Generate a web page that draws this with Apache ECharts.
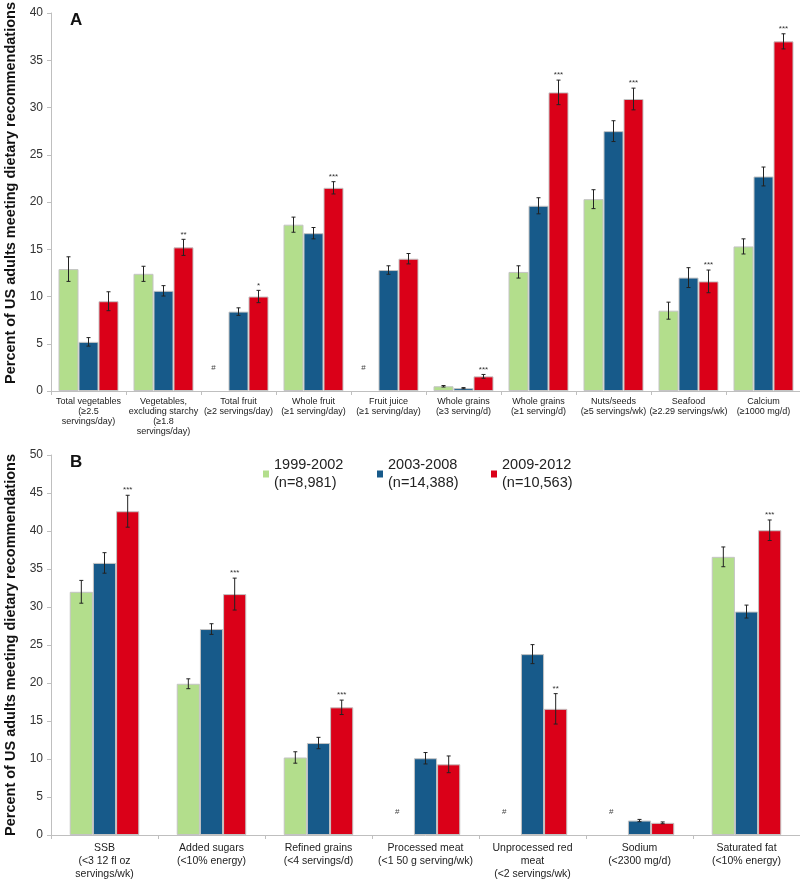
<!DOCTYPE html>
<html>
<head>
<meta charset="utf-8">
<script src="https://cdn.jsdelivr.net/npm/echarts@6/dist/echarts.min.js"></script>
<style>html,body{margin:0;padding:0;background:#fff;}#c{width:800px;height:879px;}</style>
</head>
<body>
<div id="c"></div>
<script>
// ---- Data: panel A ----
const catsA = ['Total vegetables\n(≥2.5\nservings/day)', 'Vegetables,\nexcluding starchy\n(≥1.8\nservings/day)', 'Total fruit\n(≥2 servings/day)', 'Whole fruit\n(≥1 serving/day)', 'Fruit juice\n(≥1 serving/day)', 'Whole grains\n(≥3 serving/d)', 'Whole grains\n(≥1 serving/d)', 'Nuts/seeds\n(≥5 servings/wk)', 'Seafood\n(≥2.29 servings/wk)', 'Calcium\n(≥1000 mg/d)'];
const greenA = [12.9, 12.4, null, 17.6, null, 0.5, 12.6, 20.3, 8.5, 15.3];
const greenErrA = [1.3, 0.8, 0, 0.8, 0, 0.08, 0.65, 1.0, 0.9, 0.8];
const blueA = [5.2, 10.6, 8.4, 16.7, 12.8, 0.3, 19.6, 27.5, 12.0, 22.7];
const blueErrA = [0.45, 0.55, 0.4, 0.6, 0.45, 0.06, 0.85, 1.1, 1.05, 1.0];
const redA = [9.5, 15.2, 10.0, 21.5, 14.0, 1.55, 31.6, 30.9, 11.6, 37.0];
const redErrA = [1.0, 0.85, 0.65, 0.65, 0.55, 0.2, 1.3, 1.15, 1.2, 0.8];
const sigA = ['', '**', '*', '***', '', '***', '***', '***', '***', '***'];
const hashA = ['', '', '#', '', '#', '', '', '', '', ''];
const ticksA = {min: 0, max: 40, interval: 5};

// ---- Data: panel B ----
const catsB = ['SSB\n(<3 12 fl oz\nservings/wk)', 'Added sugars\n(<10% energy)', 'Refined grains\n(<4 servings/d)', 'Processed meat\n(<1 50 g serving/wk)', 'Unprocessed red\nmeat\n(<2 servings/wk)', 'Sodium\n(<2300 mg/d)', 'Saturated fat\n(<10% energy)'];
const greenB = [32.0, 19.9, 10.2, null, null, null, 36.6];
const greenErrB = [1.5, 0.65, 0.75, 0, 0, 0, 1.3];
const blueB = [35.8, 27.1, 12.1, 10.1, 23.8, 1.9, 29.4];
const blueErrB = [1.35, 0.7, 0.75, 0.75, 1.25, 0.15, 0.85];
const redB = [42.6, 31.7, 16.8, 9.3, 16.6, 1.6, 40.1];
const redErrB = [2.1, 2.1, 0.95, 1.1, 2.0, 0.12, 1.35];
const sigB = ['***', '***', '***', '', '**', '', '***'];
const hashB = ['', '', '', '#', '#', '#', ''];
const ticksB = {min: 0, max: 50, interval: 5};

// ---- Legend ----
const seriesNames = ['1999-2002', '2003-2008', '2009-2012'];
const sampleSizes = ['(n=8,981)', '(n=14,388)', '(n=10,563)'];
const colors = ['#b3de8c', '#175a8a', '#da0018'];
const yTitle = 'Percent of US adults meeting dietary recommendations';

const FONT = '"Liberation Sans", Arial, sans-serif';
const chart = echarts.init(document.getElementById('c'));

function barSeries(name, data, color, axis, gap) {
  return {
    name: name, type: 'bar', xAxisIndex: axis, yAxisIndex: axis,
    data: data.map(v => v === null ? '-' : v),
    barGap: '0%', barCategoryGap: gap,
    itemStyle: {color: color, borderColor: '#c4c4c4', borderWidth: 1},
    emphasis: {disabled: true}, z: 2
  };
}

function errSeries(vals, errs, pos, axis, gapFrac, sigs, hashes, hashOffset) {
  const data = vals.map((v, i) => [i, v === null ? 0 : v, errs[i]]);
  return {
    type: 'custom', name: 'err' + axis + pos, xAxisIndex: axis, yAxisIndex: axis,
    encode: {x: 0, y: 1}, z: 5, silent: true,
    data: data,
    renderItem: function (params, api) {
      const idx = api.value(0);
      const v = vals[idx];
      const e = errs[idx];
      const band = api.size([1, 0])[0];
      const bw = band * (1 - gapFrac) / 3;
      const cx = api.coord([idx, 0])[0] + (pos - 1) * bw;
      const y0 = api.coord([idx, 0])[1];
      const children = [];
      if (v === null) {
        if (hashes[idx]) {
          children.push({type: 'text', style: {text: hashes[idx], x: cx - 5, y: y0 - hashOffset,
            fill: '#444', font: '8px ' + FONT, textAlign: 'center', textVerticalAlign: 'middle'}});
        }
        return {type: 'group', children: children};
      }
      const yt = api.coord([idx, v + e])[1];
      const yb = api.coord([idx, Math.max(v - e, 0)])[1];
      const ls = {stroke: '#222', lineWidth: 1};
      children.push({type: 'line', shape: {x1: cx, y1: yt, x2: cx, y2: yb}, style: ls});
      children.push({type: 'line', shape: {x1: cx - 2, y1: yt, x2: cx + 2, y2: yt}, style: ls});
      children.push({type: 'line', shape: {x1: cx - 2, y1: yb, x2: cx + 2, y2: yb}, style: ls});
      if (sigs[idx]) {
        children.push({type: 'text', style: {text: sigs[idx], x: cx, y: yt - 1,
          fill: '#333', font: '8px ' + FONT, textAlign: 'center', textVerticalAlign: 'bottom'}});
      }
      return {type: 'group', children: children};
    }
  };
}

function yAxis(gi, t, pad) {
  return {
    type: 'value', gridIndex: gi, min: t.min, max: t.max, interval: t.interval,
    name: yTitle, nameLocation: 'middle', nameGap: 26,
    nameTextStyle: {fontSize: 14.5, fontWeight: 'bold', color: '#111', fontFamily: FONT, padding: pad},
    axisLine: {show: true, lineStyle: {color: '#bfbfbf'}},
    axisTick: {show: true, length: 4, lineStyle: {color: '#bfbfbf'}},
    splitLine: {show: false},
    axisLabel: {color: '#333', fontSize: 12, margin: 8, fontFamily: FONT}
  };
}

function xAxis(gi, cats, fs, lh, margin) {
  return {
    type: 'category', gridIndex: gi, data: cats,
    axisLine: {show: true, lineStyle: {color: '#bfbfbf'}},
    axisTick: {show: true, length: 4, lineStyle: {color: '#bfbfbf'}},
    axisLabel: {interval: 0, color: '#222', fontSize: fs, lineHeight: lh, margin: margin, fontFamily: FONT}
  };
}

const gapA = 0.2, gapB = 0.35;

const option = {
  animation: false,
  textStyle: {fontFamily: FONT},
  grid: [
    {left: 51, top: 13, width: 750, height: 378, containLabel: false, outerBoundsMode: 'none'},
    {left: 51, top: 455, width: 749, height: 380, containLabel: false, outerBoundsMode: 'none'}
  ],
  xAxis: [xAxis(0, catsA, 9, 10, 6), xAxis(1, catsB, 10.5, 13, 7)],
  yAxis: [yAxis(0, ticksA, [0, 0, 0, 18]), yAxis(1, ticksB, [0, 0, 0, 0])],
  legend: {
    data: seriesNames, left: 258, top: 442, itemWidth: 6, itemHeight: 7, itemGap: 7,
    icon: 'rect', selectedMode: false,
    itemStyle: {borderWidth: 0},
    formatter: function (n) { return n + '\n' + sampleSizes[seriesNames.indexOf(n)]; },
    textStyle: {fontSize: 14.5, lineHeight: 18, color: '#222', width: 96, padding: [18, 0, 0, 0], fontFamily: FONT}
  },
  graphic: [
    {type: 'text', left: 70, top: 12, style: {text: 'A', font: 'bold 17px ' + FONT, fill: '#111'}},
    {type: 'text', left: 70, top: 454, style: {text: 'B', font: 'bold 17px ' + FONT, fill: '#111'}}
  ],
  series: [
    barSeries(seriesNames[0], greenA, colors[0], 0, '20%'),
    barSeries(seriesNames[1], blueA, colors[1], 0, '20%'),
    barSeries(seriesNames[2], redA, colors[2], 0, '20%'),
    barSeries(seriesNames[0], greenB, colors[0], 1, '35%'),
    barSeries(seriesNames[1], blueB, colors[1], 1, '35%'),
    barSeries(seriesNames[2], redB, colors[2], 1, '35%'),
    errSeries(greenA, greenErrA, 0, 0, gapA, ['', '', '', '', '', '', '', '', '', ''], hashA, 23),
    errSeries(blueA, blueErrA, 1, 0, gapA, ['', '', '', '', '', '', '', '', '', ''], hashA, 23),
    errSeries(redA, redErrA, 2, 0, gapA, sigA, hashA, 23),
    errSeries(greenB, greenErrB, 0, 1, gapB, ['', '', '', '', '', '', ''], hashB, 23),
    errSeries(blueB, blueErrB, 1, 1, gapB, ['', '', '', '', '', '', ''], hashB, 23),
    errSeries(redB, redErrB, 2, 1, gapB, sigB, hashB, 23)
  ]
};
chart.setOption(option);
</script>
</body>
</html>
